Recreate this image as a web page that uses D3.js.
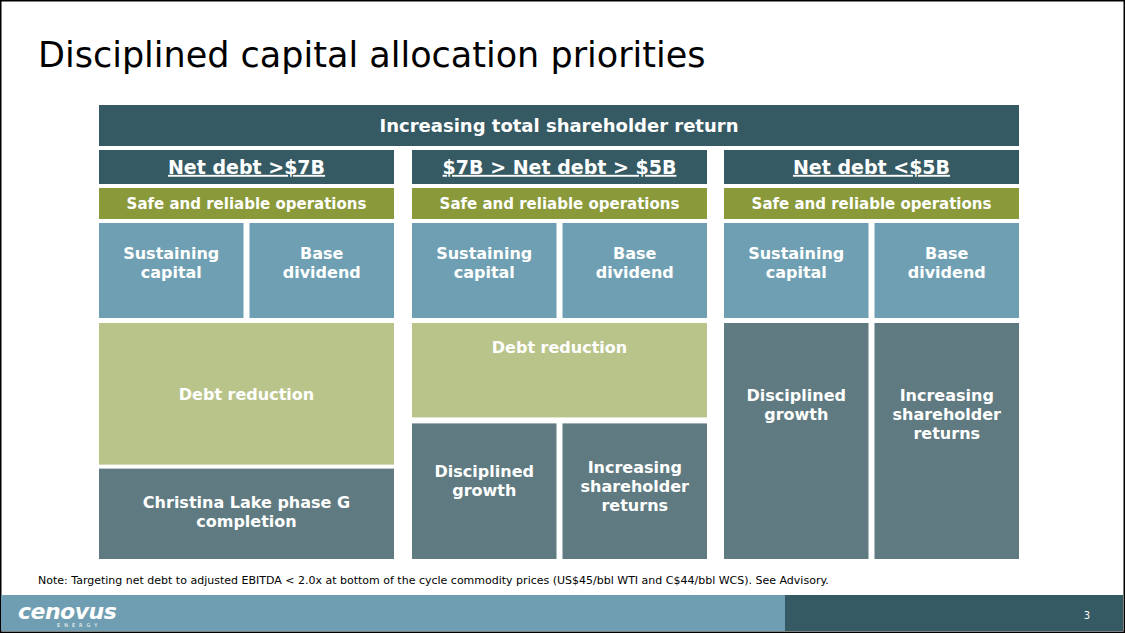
<!DOCTYPE html>
<html><head><meta charset="utf-8">
<script src="https://cdn.jsdelivr.net/npm/d3@7"></script>
<style>body{margin:0;background:#fff}svg{display:block}</style>
</head><body>
<script>
const title = "Disciplined capital allocation priorities";
const banner = "Increasing total shareholder return";
const columnHeaders = ["Net debt >$7B", "$7B > Net debt > $5B", "Net debt <$5B"];
const operationsLabel = "Safe and reliable operations";
const baseCells = [["Sustaining", "capital"], ["Base", "dividend"]];
const col1Cells = [{label:["Debt reduction"], kind:"debt"}, {label:["Christina Lake phase G","completion"], kind:"growth"}];
const col2Top = {label:["Debt reduction"], kind:"debt"};
const col2Bottom = [["Disciplined","growth"], ["Increasing","shareholder","returns"]];
const col3Cells = [["Disciplined","growth"], ["Increasing","shareholder","returns"]];
const note = "Note: Targeting net debt to adjusted EBITDA < 2.0x at bottom of the cycle commodity prices (US$45/bbl WTI and C$44/bbl WCS). See Advisory.";
const pageNumber = "3";

const colors = {dark:"#365a63", olive:"#8a9a3a", blue:"#6f9fb3", debt:"#b9c48a", growth:"#5f7b81"};
const W=1125,H=633;
const svg=d3.select("body").append("svg").attr("width",W).attr("height",H);
svg.append("rect").attr("x",0.5).attr("y",0.5).attr("width",W-1).attr("height",H-1).attr("fill","#fff").attr("stroke","#000").attr("stroke-width",2);
const font="DejaVu Sans, Verdana, sans-serif";
svg.append("text").attr("x",38).attr("y",67).attr("font-family",font).attr("font-size",35).attr("fill","#000").text(title);

const colX = d3.scaleBand().domain([0,1,2]).range([99,1038]).paddingInner(0.06).paddingOuter(0);
// actual: col width ~295 gap ~18
const y = d3.scaleLinear().domain([0,1]).range([323,559]);

function box(x,y0,w,h,fill,lines,opts={}){
  svg.append("rect").attr("x",x).attr("y",y0).attr("width",w).attr("height",h).attr("fill",fill);
  const fs=opts.fs||16, lh=opts.lh||19;
  const t=svg.append("text").attr("font-family",font).attr("font-weight","bold").attr("font-size",fs).attr("fill","#fff").attr("text-anchor","middle");
  const cy=y0+h/2+(opts.dy||0);
  lines.forEach((l,i)=>{
    const tt=t.append("tspan").attr("x",x+w/2).attr("y",cy-(lines.length-1)*lh/2+i*lh+fs*0.36).text(l);
    if(opts.underline) tt.attr("text-decoration","underline");
  });
}
box(99,105,920,41,colors.dark,[banner],{fs:18});
const cw=295, cxs=columnHeaders.map((_,i)=>99+i*(cw+18)-(i==2?1:0));
columnHeaders.forEach((h,i)=>{
  const x=cxs[i];
  box(x,150,cw,34,colors.dark,[h],{fs:19,underline:true});
  box(x,188,cw,31,colors.olive,[operationsLabel],{fs:15});
  const sw=(cw-6)/2;
  baseCells.forEach((c,j)=>box(x+j*(sw+6),223,sw,95,colors.blue,c,{fs:16,dy:-8}));
});
// col1
const h1=[0,0.6,1];
col1Cells.forEach((c,j)=>{
  const y0=y(h1[j])+(j?4:0), y1=y(h1[j+1]);
  box(cxs[0],y0,cw,y1-y0,colors[c.kind],c.label,{fs:16,dy:j?-2:0});
});
// col2
const s2=0.4;
box(cxs[1],y(0),cw,y(s2)-y(0),colors.debt,col2Top.label,{fs:16,dy:-23});
const sw=(cw-6)/2;
col2Bottom.forEach((c,j)=>box(cxs[1]+j*(sw+6),y(s2)+6,sw,y(1)-y(s2)-6,colors.growth,c,{fs:16,dy:j?-5:-10}));
col3Cells.forEach((c,j)=>box(cxs[2]+j*(sw+6),y(0),sw,y(1)-y(0),colors.growth,c,{fs:16,dy:j?-27:-36}));

svg.append("text").attr("x",38).attr("y",584).attr("font-family",font).attr("font-size",11).attr("fill","#000").text(note);
svg.append("rect").attr("x",1).attr("y",595).attr("width",784).attr("height",36).attr("fill","#6f9db1");
svg.append("rect").attr("x",785).attr("y",595).attr("width",338).attr("height",36).attr("fill",colors.dark);
svg.append("text").attr("x",18).attr("y",619).attr("font-family",font).attr("font-weight","bold").attr("font-style","italic").attr("font-size",22).attr("fill","#fff").attr("letter-spacing",-0.5).text("cenovus");
svg.append("text").attr("x",57).attr("y",627).attr("font-family",font).attr("font-size",5).attr("fill","#fff").attr("letter-spacing",4).text("ENERGY");
svg.append("text").attr("x",1090).attr("y",619).attr("font-family",font).attr("font-size",10).attr("fill","#fff").attr("text-anchor","end").text(pageNumber);
</script>
</body></html>
